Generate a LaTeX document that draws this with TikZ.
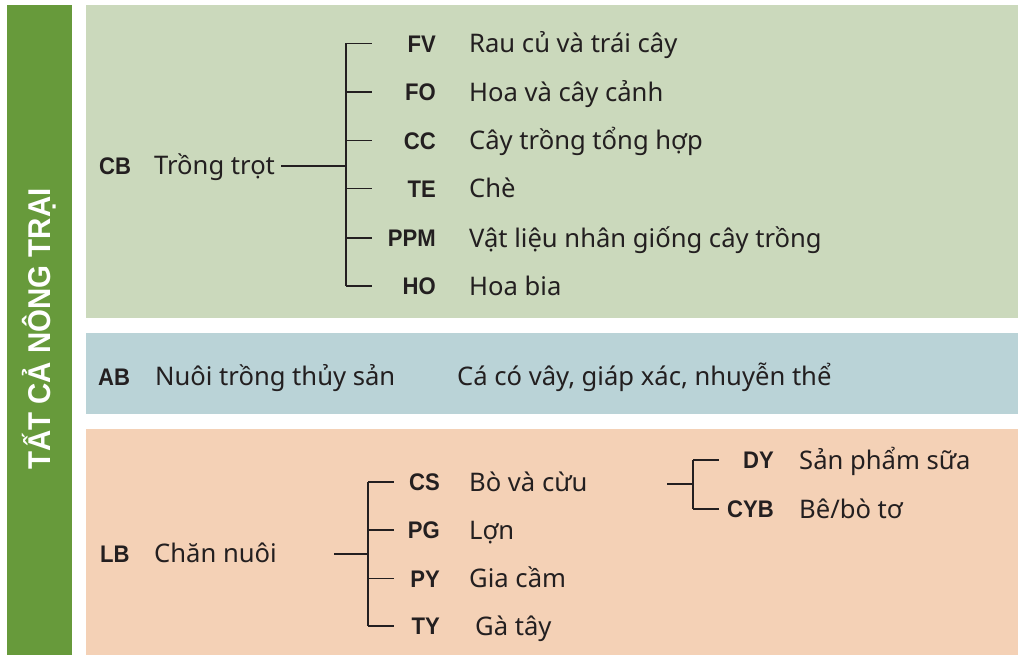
\documentclass[tikz,border=0pt]{standalone}
\usepackage{graphicx}
\usepackage{fontspec}
\setmainfont{Noto Sans}
\newfontfamily\boldfam{Liberation Sans}
\newcommand{\cdtxt}[1]{\scalebox{0.92}[1]{#1}}
\definecolor{barGreen}{HTML}{679A3B}
\definecolor{cropBg}{HTML}{CBD9BC}
\definecolor{aquaBg}{HTML}{BAD3D7}
\definecolor{liveBg}{HTML}{F4D1B6}
\definecolor{ink}{HTML}{231F20}
\tikzset{
  lbl/.style={inner sep=0pt, anchor=base west, text=ink, font=\fontsize{25.6}{30}\selectfont},
  code/.style={inner sep=0pt, anchor=base east, text=ink, font=\boldfam\fontsize{24}{30}\selectfont\bfseries},
  codew/.style={inner sep=0pt, anchor=base west, text=ink, font=\boldfam\fontsize{24}{30}\selectfont\bfseries},
  tree/.style={draw=ink, line width=1.8pt},
}
\begin{document}
\begin{tikzpicture}[x=1pt,y=-1pt]
\useasboundingbox (0,0) rectangle (1018,655);
% backgrounds
\fill[barGreen] (7,5) rectangle (72,655);
\fill[cropBg] (86,5) rectangle (1018,317.5);
\fill[aquaBg] (86,332.7) rectangle (1018,414);
\fill[liveBg] (86,429) rectangle (1018,655);
\node[rotate=90, text=white, font=\boldfam\fontsize{31.5}{34}\selectfont\bfseries, inner sep=0pt, anchor=base] (title) at (50,329) {\scalebox{0.935}[1]{TẤT CẢ NÔNG TRẠI}};

% ---- Crop section
\node[codew] (cb) at (99,174.5) {\cdtxt{CB}};
\node[lbl] (cbt) at (154,174.5) {Trồng trọt};
\coordinate (cbs) at (281,166);
\coordinate (cbh) at (346,166);
\foreach \n/\y/\c/\t in {fv/43.5/FV/Rau củ và trái cây, fo/92/FO/Hoa và cây cảnh, cc/140.5/CC/Cây trồng tổng hợp, te/188.5/TE/Chè, ppm/238/PPM/Vật liệu nhân giống cây trồng, ho/286/HO/Hoa bia}{
  \coordinate (\n v) at (346,\y);
  \coordinate (\n e) at (372,\y);
  \node[code] (\n) at (436,\y+8.6) {\cdtxt{\c}};
  \node[lbl] (\n t) at (469,\y+9.2) {\t};
  \draw[tree] (\n v) -- (\n e);
}
\draw[tree] (cbs) -- (cbh);
\draw[tree] (fvv) -- (hov);

% ---- Aquaculture
\node[codew] (ab) at (98,385.5) {\cdtxt{AB}};
\node[lbl] (abt) at (155,385.5) {Nuôi trồng thủy sản};
\node[lbl] (abd) at (457,385.5) {Cá có vây, giáp xác, nhuyễn thể};

% ---- Livestock
\node[codew] (lb) at (100,562.5) {\cdtxt{LB}};
\node[lbl] (lbt) at (154,562.5) {Chăn nuôi};
\coordinate (lbs) at (334,554);
\coordinate (lbh) at (368,554);
\foreach \n/\y/\c/\t/\dx in {cs/482/CS/Bò và cừu/469, pg/530/PG/Lợn/469, py/578.5/PY/Gia cầm/469, ty/626/TY/Gà tây/475}{
  \coordinate (\n v) at (368,\y);
  \coordinate (\n e) at (394,\y);
  \node[code] (\n) at (440,\y+8.6) {\cdtxt{\c}};
  \node[lbl] (\n t) at (\dx,\y+9.2) {\t};
  \draw[tree] (\n v) -- (\n e);
}
\draw[tree] (lbs) -- (lbh);
\draw[tree] (csv) -- (tyv);

% dairy sub-branch
\coordinate (ds) at (667,484);
\coordinate (dh) at (693,484);
\foreach \n/\y/\c/\t in {dy/460/DY/{Sản phẩm sữa}, cyb/509/CYB/{Bê/bò tơ}}{
  \coordinate (\n v) at (693,\y);
  \coordinate (\n e) at (719,\y);
  \node[code] (\n) at (774,\y+8.6) {\cdtxt{\c}};
  \node[lbl] (\n t) at (799,\y+9.2) {\t};
  \draw[tree] (\n v) -- (\n e);
}
\draw[tree] (ds) -- (dh);
\draw[tree] (dyv) -- (cybv);
\end{tikzpicture}
\end{document}
